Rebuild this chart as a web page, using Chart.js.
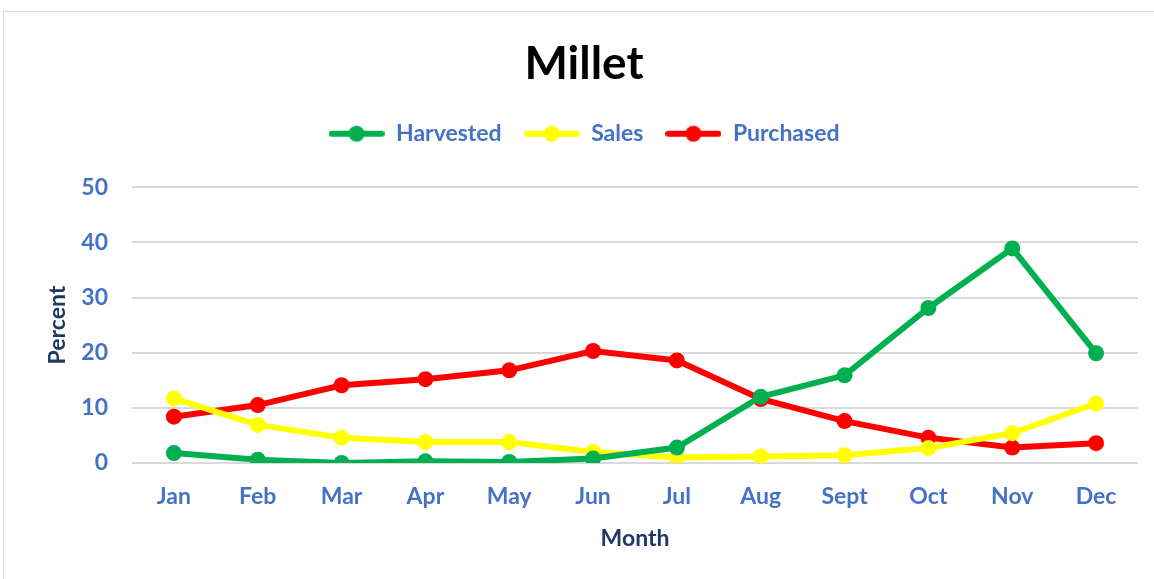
<!DOCTYPE html>
<html>
<head>
<meta charset="utf-8">
<title>Millet</title>
<script src="https://cdn.jsdelivr.net/npm/chart.js@4/dist/chart.umd.min.js"></script>
<style>
    html, body { margin: 0; padding: 0; background: #fff; overflow: hidden; }
    #frame { position: absolute; left: 3px; top: 11px; width: 1200px; height: 600px; border: 1px solid #d9d9d9; }
    #wrap { position: absolute; left: 0; top: 0; width: 1154px; height: 579px; }
</style>
</head>
<body>
<div id="frame"></div>
<div id="wrap"><canvas id="milletChart" width="1154" height="579"></canvas></div>
<script>
// Chart data
const months = ['Jan', 'Feb', 'Mar', 'Apr', 'May', 'Jun', 'Jul', 'Aug', 'Sept', 'Oct', 'Nov', 'Dec'];
const harvested = [1.8, 0.6, 0.0, 0.3, 0.2, 0.8, 2.8, 12.0, 15.9, 28.1, 38.9, 19.9];
const sales = [11.7, 6.9, 4.6, 3.8, 3.8, 2.0, 1.0, 1.2, 1.4, 2.7, 5.4, 10.8];
const purchased = [8.4, 10.5, 14.1, 15.2, 16.8, 20.3, 18.6, 11.6, 7.6, 4.6, 2.8, 3.6];
const yTicks = [0, 10, 20, 30, 40, 50];

const blue = '#4472C4';
const navy = '#1F3864';
const fontFamily = 'Lato, "Open Sans", sans-serif';

// legend marker: a short line with a dot in the middle
function legendMarker(color) {
    const c = document.createElement('canvas');
    c.width = 56;
    c.height = 18;
    const g = c.getContext('2d');
    g.strokeStyle = color;
    g.lineWidth = 6;
    g.lineCap = 'round';
    g.beginPath();
    g.moveTo(3, 9);
    g.lineTo(53, 9);
    g.stroke();
    g.fillStyle = color;
    g.beginPath();
    g.arc(28, 9, 8, 0, Math.PI * 2);
    g.fill();
    return c;
}

function makeSeries(label, values, color) {
    return {
        label: label,
        data: values,
        borderColor: color,
        backgroundColor: color,
        borderWidth: 6,
        pointRadius: 8,
        pointHoverRadius: 8,
        pointBorderWidth: 0,
        tension: 0,
        fill: false
    };
}

// extra room under the legend, as in the original chart
const legendGap = {
    id: 'legendGap',
    beforeInit: function(chart) {
        const fit = chart.legend.fit;
        chart.legend.fit = function() {
            fit.bind(chart.legend)();
            this.height += 32;
        };
    }
};

const ctx = document.getElementById('milletChart').getContext('2d');
new Chart(ctx, {
    type: 'line',
    data: {
        labels: months,
        datasets: [
            makeSeries('Harvested', harvested, '#00B050'),
            makeSeries('Sales', sales, '#FFFF00'),
            makeSeries('Purchased', purchased, '#FF0000')
        ]
    },
    plugins: [legendGap],
    options: {
        responsive: false,
        animation: false,
        layout: { padding: { left: 30, right: 16, top: 0, bottom: 0 } },
        plugins: {
            title: {
                display: true,
                text: 'Millet',
                color: '#000000',
                font: { family: fontFamily, size: 46, weight: 'bold' },
                padding: { top: 37, bottom: 8 }
            },
            legend: {
                position: 'top',
                labels: {
                    color: blue,
                    font: { family: fontFamily, size: 23, weight: 'bold' },
                    usePointStyle: true,
                    pointStyleWidth: 56,
                    padding: 22,
                    generateLabels: function(chart) {
                        const items = Chart.defaults.plugins.legend.labels.generateLabels(chart);
                        items.forEach(function(item) {
                            item.pointStyle = legendMarker(chart.data.datasets[item.datasetIndex].borderColor);
                        });
                        return items;
                    }
                }
            },
            tooltip: { enabled: false }
        },
        scales: {
            x: {
                offset: true,
                grid: { display: false, drawTicks: false },
                border: { display: false },
                ticks: {
                    color: blue,
                    padding: 20,
                    font: { family: fontFamily, size: 23, weight: 'bold' }
                },
                title: {
                    display: true,
                    text: 'Month',
                    color: navy,
                    font: { family: fontFamily, size: 23, weight: 'bold' },
                    padding: { top: 0, bottom: 27 }
                },
                afterFit: function(scale) { scale.height = 116; }
            },
            y: {
                min: 0,
                max: 50,
                afterBuildTicks: function(scale) {
                    scale.ticks = yTicks.map(function(v) { return { value: v }; });
                },
                grid: { color: '#d9d9d9', lineWidth: 2, drawTicks: false },
                border: { display: false },
                ticks: {
                    color: blue,
                    padding: 24,
                    font: { family: fontFamily, size: 23, weight: 'bold' }
                },
                title: {
                    display: true,
                    text: 'Percent',
                    color: navy,
                    font: { family: fontFamily, size: 23, weight: 'bold' },
                    padding: { top: 14, bottom: 0 }
                },
                afterFit: function(scale) { scale.width = 102; }
            }
        }
    }
});
</script>
</body>
</html>
